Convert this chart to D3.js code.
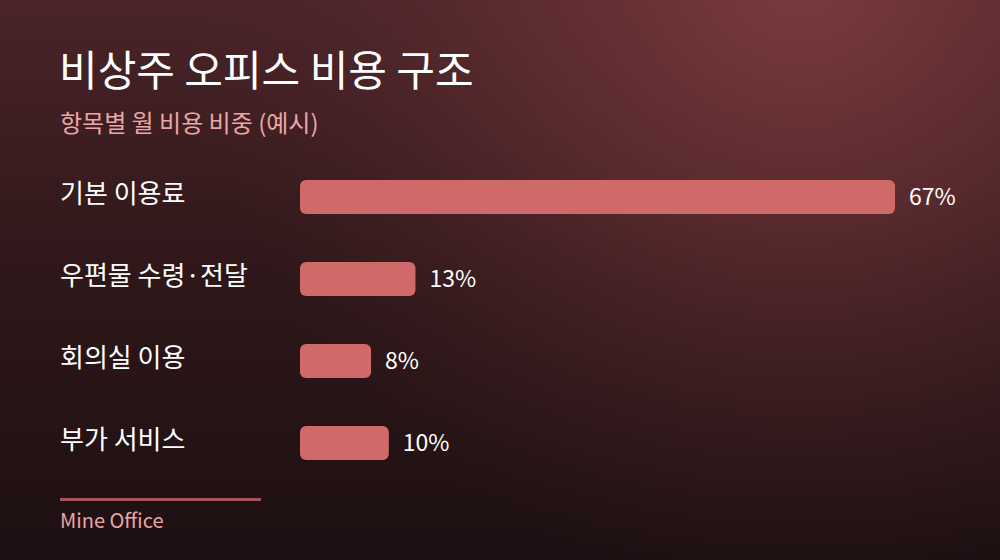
<!DOCTYPE html>
<html>
<head>
<meta charset="utf-8">
<script src="https://cdn.jsdelivr.net/npm/d3@7"></script>
<style>
  html, body { margin: 0; padding: 0; background: #1f1113; }
  svg { display: block; font-family: "Noto Sans CJK KR", "Noto Sans", sans-serif; }
</style>
</head>
<body>
<div id="chart"></div>
<script>
// data
const categories = ['기본 이용료', '우편물 수령·전달', '회의실 이용', '부가 서비스'];
const shares = [67, 13, 8, 10];
const title = '비상주 오피스 비용 구조';
const subtitle = '항목별 월 비용 비중 (예시)';
const source = 'Mine Office';

const width = 1000;
const height = 560;
const margin = { top: 180, left: 300, right: 105, bottom: 100 };

const svg = d3.select('#chart')
    .append('svg')
    .attr('width', width)
    .attr('height', height);

// background: dark vertical fade + warm glow near the top right
const defs = svg.append('defs');
const base = defs.append('linearGradient')
    .attr('id', 'base')
    .attr('x1', 0).attr('y1', 0).attr('x2', 0).attr('y2', 1);
base.append('stop').attr('offset', 0).attr('stop-color', '#4a2428');
base.append('stop').attr('offset', 0.5).attr('stop-color', '#2e1719');
base.append('stop').attr('offset', 1).attr('stop-color', '#1d1012');

const glow = defs.append('radialGradient')
    .attr('id', 'glow')
    .attr('gradientUnits', 'userSpaceOnUse')
    .attr('cx', 800).attr('cy', -30).attr('r', 620);
glow.append('stop').attr('offset', 0).attr('stop-color', '#7c3c3e').attr('stop-opacity', 1);
glow.append('stop').attr('offset', 0.45).attr('stop-color', '#6a3235').attr('stop-opacity', 0.6);
glow.append('stop').attr('offset', 1).attr('stop-color', '#4a2428').attr('stop-opacity', 0);

svg.append('rect')
    .attr('width', width)
    .attr('height', height)
    .attr('fill', 'url(#base)');
svg.append('rect')
    .attr('width', width)
    .attr('height', height)
    .attr('fill', 'url(#glow)');

const data = categories.map((c, i) => ({ key: c, value: shares[i] }));

const x = d3.scaleLinear()
    .domain([0, d3.max(shares)])
    .range([margin.left, width - margin.right]);

const y = d3.scaleBand()
    .domain(categories)
    .range([margin.top, height - margin.bottom])
    .paddingInner(0.585)
    .paddingOuter(0);

// titles
svg.append('text')
    .attr('x', 59).attr('y', 86)
    .attr('fill', '#ffffff')
    .attr('font-size', 42)
    .attr('font-weight', 400)
    .text(title);

svg.append('text')
    .attr('x', 60).attr('y', 132)
    .attr('fill', '#eaa7a7')
    .attr('font-size', 24)
    .text(subtitle);

// category labels
svg.append('g')
    .selectAll('text')
    .data(data)
    .join('text')
    .attr('x', 60)
    .attr('y', d => y(d.key) + y.bandwidth() / 2 - 3)
    .attr('dy', '0.35em')
    .attr('fill', '#ffffff')
    .attr('font-size', 26)
    .text(d => d.key);

// bars
svg.append('g')
    .selectAll('rect')
    .data(data)
    .join('rect')
    .attr('x', x(0))
    .attr('y', d => y(d.key))
    .attr('width', d => x(d.value) - x(0))
    .attr('height', y.bandwidth())
    .attr('rx', 6)
    .attr('fill', '#d06a6a');

// value labels
svg.append('g')
    .selectAll('text')
    .data(data)
    .join('text')
    .attr('x', d => x(d.value) + 14)
    .attr('y', d => y(d.key) + y.bandwidth() / 2)
    .attr('dy', '0.35em')
    .attr('fill', '#ffffff')
    .attr('font-size', 23)
    .text(d => d.value + '%');

// footer
svg.append('rect')
    .attr('x', 60).attr('y', 498)
    .attr('width', 201).attr('height', 3)
    .attr('fill', '#a55558');

svg.append('text')
    .attr('x', 60).attr('y', 528)
    .attr('fill', '#e8a5a5')
    .attr('font-size', 20)
    .text(source);
</script>
</body>
</html>
